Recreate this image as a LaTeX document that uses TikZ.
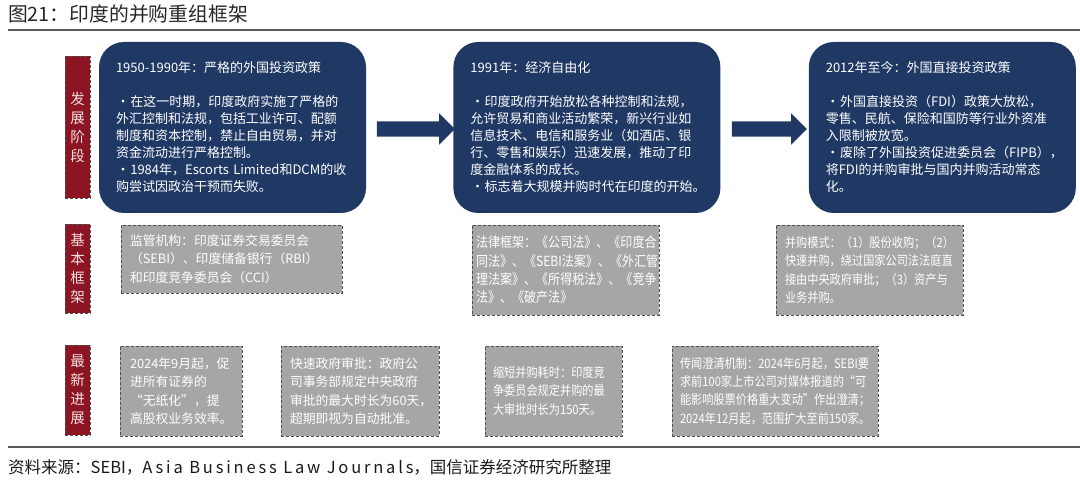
\documentclass[tikz,border=0pt]{standalone}
\usepackage{fontspec}
\setmainfont{Noto Sans CJK SC}
\newfontfamily\narrowcjk[FakeStretch=0.86]{Noto Sans CJK SC}
\usepackage{tikz}
\usetikzlibrary{shapes,arrows,positioning}

\definecolor{navy}{RGB}{31,56,100}
\definecolor{tagred}{RGB}{140,21,36}
\definecolor{tagtext}{RGB}{248,222,222}
\definecolor{boxgray}{RGB}{166,166,166}
\definecolor{edgegray}{RGB}{80,80,80}
\definecolor{rulegray}{RGB}{90,90,90}

\newcommand{\itemdot}{\makebox[1.1em]{·}}

\begin{document}
\begin{tikzpicture}[
    x=1pt, y=-1pt,
    phase/.style={rectangle, fill=navy, text=white, rounded corners=25pt, minimum width=267pt, minimum height=171pt, text width=233pt, align=left, font=\fontsize{13}{17}\selectfont},
    tagbox/.style={rectangle, draw=edgegray, densely dashed, fill=tagred, text=tagtext, minimum width=25pt, inner sep=0pt, align=center, font=\fontsize{14.5}{19}\selectfont},
    infobox/.style={rectangle, draw=edgegray, densely dashed, line width=0.9pt, fill=boxgray, text=white, minimum height=90pt, inner xsep=9pt, align=left, font=\fontsize{12.8}{18.3}\selectfont},
    narrowbox/.style={infobox, font=\narrowcjk\fontsize{13}{18.3}\selectfont},
    bigarrow/.style={single arrow, fill=navy, inner xsep=0pt, inner ysep=7.5pt, single arrow head extend=8pt, minimum height=78pt}
]
    \useasboundingbox (0,0) rectangle (1080,484);

    % title and rules
    \node[anchor=west, inner sep=0pt, font=\fontsize{19.8}{22}\selectfont, text=black!85] (title) at (8,14) {图21：印度的并购重组框架};
    \draw[rulegray, line width=1.2pt] (8,30) -- (1080,30);
    \draw[rulegray, line width=1.2pt] (8,447) -- (1080,447);
    \node[anchor=west, inner sep=0pt, font=\fontsize{16.5}{20}\selectfont, text=black!90] (source) at (8,467) {资料来源：SEBI，{\addfontfeature{LetterSpace=17}Asia Business Law Journals}，国信证券经济研究所整理};

    % row tags
    \node[tagbox, minimum height=142pt] (stage) at (77.5,127) {发\\展\\阶\\段};
    \node[tagbox, minimum height=89pt] (frame) at (77.5,268.5) {基\\本\\框\\架};
    \node[tagbox, minimum height=90pt] (latest) at (77.5,390) {最\\新\\进\\展};

    % development stages
    \node[phase] (era1) at (232.5,127.5) {1950-1990年：严格的外国投资政策\\[17pt]
        \itemdot 在这一时期，印度政府实施了严格的\\
        外汇控制和法规，包括工业许可、配额\\
        制度和资本控制，禁止自由贸易，并对\\
        资金流动进行严格控制。\\
        \itemdot 1984年，Escorts Limited和DCM的收\\
        购尝试因政治干预而失败。};
    \node[phase, right=87pt of era1] (era2) {1991年：经济自由化\\[17pt]
        \itemdot 印度政府开始放松各种控制和法规，\\
        允许贸易和商业活动繁荣，新兴行业如\\
        信息技术、电信和服务业（如酒店、银\\
        行、零售和娱乐）迅速发展，推动了印\\
        度金融体系的成长。\\
        \itemdot 标志着大规模并购时代在印度的开始。};
    \node[phase, right=88pt of era2] (era3) {2012年至今：外国直接投资政策\\[17pt]
        \itemdot 外国直接投资（FDI）政策大放松，\\
        零售、民航、保险和国防等行业外资准\\
        入限制被放宽。\\
        \itemdot 废除了外国投资促进委员会（FIPB），\\
        将FDI的并购审批与国内并购活动常态\\
        化。};

    \node[bigarrow] (step1) at (412,129) {};
    \node[bigarrow, minimum height=75pt] (step2) at (765.5,129) {};

    % basic framework
    \node[infobox, minimum height=68pt, text width=203pt] (regulator) at (231.5,259) {监管机构：印度证券交易委员会\\
        （SEBI）、印度储备银行（RBI）\\
        和印度竞争委员会（CCI）};
    \node[narrowbox, inner xsep=4pt, text width=179pt, font=\narrowcjk\fontsize{14}{18.3}\selectfont] (lawbase) at (565.5,270) {法律框架：《公司法》、《印度合\\
        同法》、《SEBI法案》、《外汇管\\
        理法案》、《所得税法》、《竞争\\
        法》、《破产法》};
    \node[narrowbox, text width=169pt] (mamode) at (869.5,270) {并购模式：（1）股份收购；（2）\\
        快速并购，绕过国家公司法法庭直\\
        接由中央政府审批；（3）资产与\\
        业务并购。};

    % latest progress
    \node[infobox, inner xsep=10pt, text width=102pt] (paperless) at (181,391) {2024年9月起，促\\
        进所有证券的\\
        “无纸化”，提\\
        高股权业务效率。};
    \node[infobox, text width=140pt] (fasttrack) at (360,391) {快速政府审批：政府公\\
        司事务部规定中央政府\\
        审批的最大时长为60天，\\
        超期即视为自动批准。};
    \node[narrowbox, inner xsep=8pt, text width=121pt] (shorter) at (553.5,391) {缩短并购耗时：印度竞\\
        争委员会规定并购的最\\
        大审批时长为150天。};
    \node[narrowbox, inner xsep=8pt, text width=190pt] (rumour) at (775,391) {传闻澄清机制：2024年6月起，SEBI要\\
        求前100家上市公司对媒体报道的“可\\
        能影响股票价格重大变动”作出澄清；\\
        2024年12月起，范围扩大至前150家。};
\end{tikzpicture}
\end{document}
